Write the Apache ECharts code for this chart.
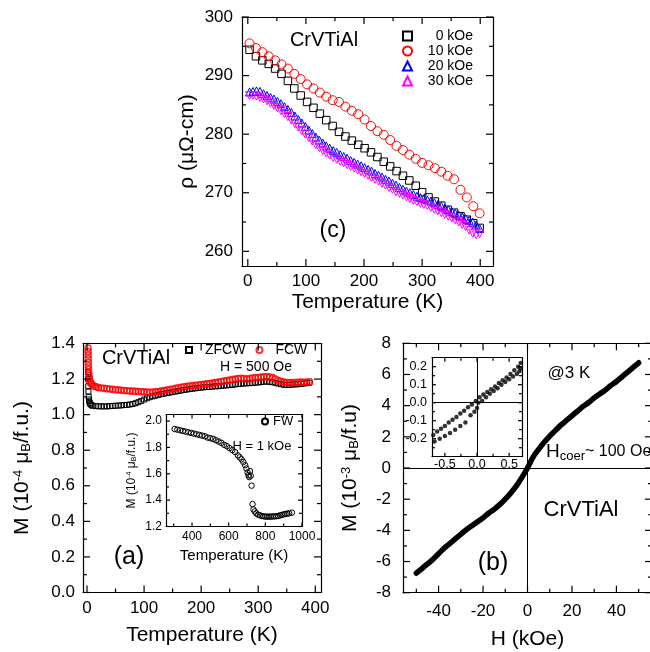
<!DOCTYPE html>
<html>
<head>
<meta charset="utf-8">
<script src="https://cdn.jsdelivr.net/npm/echarts@6/dist/echarts.min.js"></script>
<style>html,body{margin:0;padding:0;background:#fff}#chart{width:650px;height:652px}</style>
</head>
<body>
<div id="chart"></div>
<script>
// (c) resistivity vs temperature
const tempC = [3,14,25,36,47,58,69,80,91,102,113,124,135,146,157,168,179,190,201,212,223,234,245,256,267,278,289,300,311,322,333,344,355,366,377,388,399];
const rho0 = [294.4,293.3,292.6,292.0,291.2,290.3,289.1,287.8,286.6,285.5,284.5,283.5,282.4,281.4,280.4,279.6,278.9,278.2,277.6,276.9,276.1,275.3,274.5,273.7,272.9,272.1,271.2,270.1,269.2,268.5,267.8,267.1,266.6,266.0,265.4,264.8,264.0];
const rho10 = [295.5,294.7,294.0,293.3,292.6,291.9,291.2,290.3,289.4,288.5,287.8,287.1,286.4,285.8,285.5,284.7,284.0,283.4,282.5,281.4,280.5,279.9,279.0,278.0,277.3,276.5,275.8,275.1,274.7,274.2,273.6,272.9,272.3,270.5,269.2,267.7,266.5];
const tempTri = [3,9,15,21,27,33,39,45,51,57,63,69,75,81,87,93,99,105,111,117,123,129,135,141,147,153,159,165,171,177,183,189,195,201,207,213,219,225,231,237,243,249,255,261,267,273,279,285,291,297,303,309,315,321,327,333,339,345,351,357,363,369,375,381,387,393,399];
const rho20 = [287.2,287.3,287.4,287.3,286.9,286.6,286.3,286.0,285.6,285.2,284.7,284.2,283.7,283.1,282.5,281.9,281.3,280.7,280.1,279.5,279.0,278.5,278.0,277.6,277.2,276.9,276.5,276.2,275.9,275.5,275.2,274.9,274.6,274.3,274.0,273.7,273.3,273.0,272.7,272.3,272.0,271.6,271.3,270.9,270.6,270.3,270.0,269.7,269.4,269.2,269.0,268.8,268.6,268.3,268.0,267.7,267.4,267.1,266.8,266.5,266.2,265.9,265.6,265.3,265.0,264.5,263.9];
const rho30 = [286.6,286.6,286.5,286.3,286.0,285.7,285.3,284.9,284.5,284.0,283.5,283.0,282.4,281.8,281.2,280.6,280.0,279.4,278.8,278.2,277.7,277.2,276.8,276.4,276.0,275.7,275.4,275.1,274.8,274.5,274.2,273.9,273.6,273.3,273.0,272.6,272.3,272.0,271.6,271.3,270.9,270.6,270.2,269.9,269.6,269.3,269.0,268.7,268.5,268.2,268.0,267.8,267.5,267.2,266.9,266.6,266.3,266.0,265.7,265.4,265.0,264.6,264.2,263.6,263.1,262.8,263.0];

// (a) magnetization vs temperature, H = 500 Oe
const tempZfc = [1.8,2,2.2,2.5,3,3.5,4,5,6,8,10,15,20,25,30,35,40,45,50,55,60,65,70,75,80,85,90,95,100,105,110,115,120,125,130,135,140,145,150,155,160,165,170,175,180,185,190,195,200,205,210,215,220,225,230,235,240,245,250,255,260,265,270,275,280,285,290,295,300,305,310,315,320,325,330,335,340,345,350,355,360,365,370,375,380,385,390];
const momZfc = [1.24,1.2,1.16,1.13,1.1,1.085,1.075,1.065,1.058,1.053,1.05,1.048,1.047,1.046,1.047,1.046,1.048,1.049,1.05,1.051,1.052,1.054,1.055,1.057,1.06,1.064,1.07,1.077,1.085,1.092,1.098,1.103,1.107,1.111,1.115,1.118,1.121,1.124,1.127,1.13,1.133,1.136,1.139,1.141,1.144,1.146,1.148,1.15,1.152,1.154,1.155,1.156,1.158,1.159,1.16,1.162,1.163,1.165,1.166,1.168,1.17,1.172,1.173,1.175,1.176,1.177,1.178,1.18,1.181,1.183,1.185,1.186,1.184,1.182,1.179,1.175,1.171,1.168,1.167,1.168,1.169,1.17,1.171,1.173,1.175,1.177,1.18];
const tempFc = [1.8,1.9,2,2.1,2.2,2.4,2.6,3,3.5,4,5,6,8,10,13,16,20,25,30,35,40,45,50,55,60,65,70,75,80,85,90,95,100,105,110,115,120,125,130,135,140,145,150,155,160,165,170,175,180,185,190,195,200,205,210,215,220,225,230,235,240,245,250,255,260,265,270,275,280,285,290,295,300,305,310,315,320,325,330,335,340,345,350,355,360,365,370,375,380,385,390];
const momFc = [1.375,1.355,1.335,1.315,1.295,1.275,1.255,1.235,1.22,1.205,1.19,1.18,1.172,1.165,1.16,1.156,1.152,1.15,1.148,1.146,1.144,1.142,1.14,1.139,1.137,1.136,1.134,1.133,1.132,1.131,1.13,1.129,1.128,1.127,1.126,1.127,1.128,1.13,1.132,1.135,1.138,1.141,1.144,1.148,1.151,1.154,1.157,1.159,1.161,1.163,1.165,1.167,1.169,1.171,1.173,1.175,1.177,1.18,1.183,1.186,1.189,1.192,1.195,1.198,1.2,1.203,1.205,1.203,1.2,1.203,1.206,1.208,1.209,1.211,1.213,1.214,1.212,1.208,1.2,1.192,1.187,1.183,1.181,1.18,1.18,1.181,1.182,1.183,1.182,1.183,1.185];

// (a) inset, H = 1 kOe
const tempFw = [305,320,335,350,365,380,395,410,425,440,455,470,485,500,515,530,545,560,575,590,605,620,635,650,660,670,680,690,697,703,708,712,716,720,725,730,735,742,750,760,770,780,790,800,810,820,830,840,850,860,870,880,890,900,910,920,930,945];
const momFw = [1.94,1.935,1.93,1.925,1.92,1.915,1.91,1.905,1.9,1.895,1.89,1.885,1.875,1.87,1.865,1.855,1.845,1.835,1.82,1.81,1.795,1.78,1.765,1.74,1.725,1.71,1.69,1.665,1.64,1.61,1.59,1.575,1.62,1.585,1.51,1.37,1.33,1.315,1.3,1.29,1.285,1.28,1.278,1.275,1.275,1.275,1.275,1.276,1.277,1.278,1.28,1.284,1.288,1.292,1.295,1.298,1.3,1.305];

// (b) M-H at 3 K
const fieldMH = [-50,-47.5,-45,-42.5,-40,-37.5,-35,-32.5,-30,-27.5,-25,-22.5,-20,-17.5,-15,-12.5,-10,-7.5,-5,-2.5,0,2.5,5,7.5,10,12.5,15,17.5,20,22.5,25,27.5,30,32.5,35,37.5,40,42.5,45,47.5,50];
const momMH = [-6.75,-6.45,-6.15,-5.85,-5.5,-5.15,-4.85,-4.55,-4.25,-3.95,-3.7,-3.45,-3.2,-2.9,-2.65,-2.35,-2.0,-1.6,-1.15,-0.6,0,0.7,1.2,1.65,2.05,2.4,2.75,3.05,3.35,3.65,3.95,4.2,4.5,4.75,5.0,5.3,5.55,5.85,6.15,6.45,6.75];
// (b) inset, low-field loop
const fieldUp = [-0.68,-0.62,-0.56,-0.5,-0.44,-0.38,-0.32,-0.26,-0.2,-0.14,-0.08,-0.02,0.04,0.1,0.16,0.22,0.28,0.34,0.4,0.46,0.52,0.58,0.64,0.68];
const momUp = [-0.18,-0.16,-0.145,-0.13,-0.11,-0.095,-0.08,-0.06,-0.045,-0.025,-0.01,0.01,0.03,0.045,0.06,0.075,0.09,0.11,0.125,0.14,0.16,0.18,0.2,0.22];
const fieldDn = [-0.66,-0.58,-0.5,-0.42,-0.34,-0.26,-0.18,-0.1,-0.04,0.0,0.02,0.08,0.14,0.2,0.26,0.32,0.38,0.44,0.5,0.56,0.62,0.66,0.68];
const momDn = [-0.215,-0.2,-0.185,-0.168,-0.15,-0.13,-0.11,-0.07,-0.05,-0.03,0.0,0.01,0.03,0.05,0.065,0.08,0.1,0.115,0.13,0.145,0.16,0.175,0.19];

const FONT = '"Liberation Sans", Arial, sans-serif';
const zip = (xs, ys) => xs.map((x, i) => [x, ys[i]]);

const grids = [
  { left: 242, top: 17, width: 251, height: 249 },   // (c)
  { left: 83, top: 343.5, width: 238, height: 249 },  // (a)
  { left: 166, top: 414.5, width: 136, height: 112 }, // (a) inset
  { left: 403, top: 343.3, width: 249, height: 249.4 }, // (b)
  { left: 432, top: 357.7, width: 90, height: 99 }    // (b) inset
].map(g => Object.assign({ show: false, containLabel: false, outerBoundsMode: 'none' }, g));

const xAxes = [], yAxes = [];

// one side of a framed box, labels only on bottom / left
function axis(g, pos, s, withLabel) {
  const a = {
    type: 'value', gridIndex: g, position: pos, min: s.min, max: s.max,
    axisLine: { show: true, onZero: false, lineStyle: { color: '#000', width: 1.2 } },
    axisTick: { show: false },
    axisLabel: { show: withLabel, customValues: s.major, margin: s.margin, color: '#000',
      fontSize: s.fs, fontFamily: FONT, formatter: s.fmt },
    splitLine: { show: false }
  };
  if (withLabel && s.name) {
    a.name = s.name;
    a.nameLocation = 'middle';
    a.nameGap = s.nameGap;
    a.nameTextStyle = Object.assign({ color: '#000', fontFamily: FONT, fontSize: s.nameFs }, s.nameStyle || {});
  }
  return a;
}

// inward ticks on all four sides, placed through the axes' own scales
function tickSeries(ax, xs, ys) {
  const line = (x1, y1, x2, y2) => ({ type: 'line', shape: { x1, y1, x2, y2 }, style: { stroke: '#000', lineWidth: 1.2 } });
  const mk = (s, horiz) => ({
    type: 'custom', xAxisIndex: ax.xi, yAxisIndex: ax.yi, silent: true, clip: false, z: 10,
    data: s.major.map(v => [v, s.majLen]).concat(s.minor.map(v => [v, s.minLen])),
    renderItem: (params, api) => {
      const v = api.value(0), len = api.value(1);
      if (horiz) {
        const lo = api.coord([v, ys.min]), hi = api.coord([v, ys.max]);
        return { type: 'group', children: [line(lo[0], lo[1], lo[0], lo[1] - len), line(hi[0], hi[1], hi[0], hi[1] + len)] };
      }
      const l = api.coord([xs.min, v]), r = api.coord([xs.max, v]);
      return { type: 'group', children: [line(l[0], l[1], l[0] + len, l[1]), line(r[0], r[1], r[0] - len, r[1])] };
    }
  });
  return [mk(xs, true), mk(ys, false)];
}

const tickLayers = [];
function box(g, xs, ys) {
  const ax = { xi: xAxes.length, yi: yAxes.length };
  xAxes.push(axis(g, 'bottom', xs, true), axis(g, 'top', xs, false));
  yAxes.push(axis(g, 'left', ys, true), axis(g, 'right', ys, false));
  tickLayers.push(...tickSeries(ax, xs, ys));
  return ax;
}

const int = v => String(Math.round(v));
const one = v => v.toFixed(1);
const supRich = fs => ({
  n: { fontSize: fs, fontFamily: FONT, color: '#000' },
  sup: { fontSize: Math.round(fs * 0.62), fontFamily: FONT, color: '#000', verticalAlign: 'top', lineHeight: fs },
  sub: { fontSize: Math.round(fs * 0.62), fontFamily: FONT, color: '#000', verticalAlign: 'bottom', lineHeight: fs }
});

const axC = box(0,
  { min: -10, max: 422, major: [0, 100, 200, 300, 400], minor: [50, 150, 250, 350], majLen: 7, minLen: 4,
    margin: 7, fs: 17, fmt: int, name: 'Temperature (K)', nameGap: 26, nameFs: 21 },
  { min: 257.5, max: 300, major: [260, 270, 280, 290, 300], minor: [265, 275, 285, 295], majLen: 7, minLen: 4,
    margin: 9, fs: 17, fmt: int, name: 'ρ (μΩ-cm)', nameGap: 44, nameFs: 21 });

const axA = box(1,
  { min: -7, max: 410, major: [0, 100, 200, 300, 400], minor: [50, 150, 250, 350], majLen: 7, minLen: 4,
    margin: 7, fs: 17, fmt: int, name: 'Temperature (K)', nameGap: 32, nameFs: 21 },
  { min: 0, max: 1.4, major: [0, 0.2, 0.4, 0.6, 0.8, 1.0, 1.2, 1.4], minor: [0.1, 0.3, 0.5, 0.7, 0.9, 1.1, 1.3], majLen: 7, minLen: 4,
    margin: 8, fs: 17, fmt: one, name: '{n|M (10}{sup|-4}{n| μ}{sub|B}{n|/f.u.)}', nameGap: 50, nameFs: 21,
    nameStyle: { rich: supRich(21) } });

const axAi = box(2,
  { min: 258, max: 1000, major: [400, 600, 800, 1000], minor: [300, 500, 700, 900], majLen: 4, minLen: 3,
    margin: 4, fs: 12, fmt: int, name: 'Temperature (K)', nameGap: 22, nameFs: 15 },
  { min: 1.2, max: 2.05, major: [1.2, 1.4, 1.6, 1.8, 2.0], minor: [1.3, 1.5, 1.7, 1.9], majLen: 4, minLen: 3,
    margin: 4, fs: 12, fmt: one, name: '{n|M (10}{sup|-4}{n| μ}{sub|B}{n|/f.u.)}', nameGap: 28, nameFs: 12,
    nameStyle: { rich: supRich(12) } });

const axB = box(3,
  { min: -56, max: 56, major: [-40, -20, 0, 20, 40], minor: [-50, -30, -10, 10, 30, 50], majLen: 7, minLen: 4,
    margin: 10, fs: 17, fmt: int, name: 'H (kOe)', nameGap: 36, nameFs: 21 },
  { min: -8, max: 8, major: [-8, -6, -4, -2, 0, 2, 4, 6, 8], minor: [-7, -5, -3, -1, 1, 3, 5, 7], majLen: 7, minLen: 4,
    margin: 12, fs: 17, fmt: int, name: '{n|M (10}{sup|-3}{n| μ}{sub|B}{n|/f.u)}', nameGap: 42, nameFs: 21,
    nameStyle: { rich: supRich(21) } });

const axBi = box(4,
  { min: -0.7, max: 0.7, major: [-0.5, 0, 0.5], minor: [-0.25, 0.25], majLen: 4, minLen: 3,
    margin: 1, fs: 12.5, fmt: one },
  { min: -0.3, max: 0.25, major: [-0.2, -0.1, 0, 0.1, 0.2], minor: [-0.25, -0.15, -0.05, 0.05, 0.15], majLen: 4, minLen: 3,
    margin: 5, fs: 12.5, fmt: one });

function scatter(name, ax, data, symbol, size, color, opts) {
  return Object.assign({
    type: 'scatter', name, xAxisIndex: ax.xi, yAxisIndex: ax.yi, data,
    symbol, symbolSize: size,
    itemStyle: { color: 'rgba(0,0,0,0)', borderColor: color, borderWidth: 1, opacity: 1 }
  }, opts || {});
}

const zeroLines = () => ({
  silent: true, symbol: ['none', 'none'], label: { show: false },
  lineStyle: { type: 'solid', color: '#000', width: 1 },
  data: [{ xAxis: 0 }, { yAxis: 0 }]
});

const series = [
  scatter('0 kOe', axC, zip(tempC, rho0), 'rect', 7.5, '#000'),
  scatter('10 kOe', axC, zip(tempC, rho10), 'circle', 9, '#ff0000'),
  scatter('20 kOe', axC, zip(tempTri, rho20), 'triangle', 8, '#0000ff'),
  scatter('30 kOe', axC, zip(tempTri, rho30), 'triangle', 8, '#ff00ff', { symbolRotate: 180 }),
  scatter('ZFCW', axA, zip(tempZfc, momZfc), 'rect', 5, '#000'),
  scatter('FCW', axA, zip(tempFc, momFc), 'circle', 6, '#ff0000',
    { itemStyle: { color: 'rgba(0,0,0,0)', borderColor: '#ff0000', borderWidth: 1.6 } }),
  scatter('FW', axAi, zip(tempFw, momFw), 'circle', 5.5, '#000'),
  {
    type: 'line', name: 'MH', xAxisIndex: axB.xi, yAxisIndex: axB.yi, data: zip(fieldMH, momMH),
    showSymbol: false, smooth: 0.35,
    lineStyle: { color: '#000', width: 5.5, cap: 'round', join: 'round' },
    markLine: zeroLines()
  },
  scatter('up', axBi, zip(fieldUp, momUp), 'circle', 4.5, '#000',
    { itemStyle: { color: '#000' }, markLine: zeroLines() }),
  scatter('down', axBi, zip(fieldDn, momDn), 'circle', 4.5, '#000', { itemStyle: { color: '#000' } })
].concat(tickLayers);

const legendBase = { selectedMode: false, padding: 0, inactiveColor: '#000', symbolKeepAspect: true };

const legends = [
  Object.assign({}, legendBase, {
    data: ['0 kOe', '10 kOe', '20 kOe', '30 kOe'], orient: 'vertical', left: 402, top: 29,
    itemWidth: 9, itemHeight: 9, itemGap: 1,
    formatter: n => '{r|' + n + '}',
    textStyle: { rich: { r: { width: 56, align: 'right', fontSize: 14, lineHeight: 17.5, fontFamily: FONT, color: '#000' } } }
  }),
  Object.assign({}, legendBase, {
    data: ['ZFCW', 'FCW'], orient: 'horizontal', left: 185, top: 343,
    itemWidth: 6, itemHeight: 6, itemGap: 10,
    formatter: n => '{t|' + n + '}',
    textStyle: { rich: { t: { padding: [0, 0, 0, 8], fontSize: 14, lineHeight: 16, fontFamily: FONT, color: '#000' } } }
  }),
  Object.assign({}, legendBase, {
    data: ['FW'], orient: 'horizontal', left: 261, top: 414,
    itemWidth: 6, itemHeight: 6, itemGap: 5,
    textStyle: { color: '#000', fontFamily: FONT, fontSize: 13, lineHeight: 15 }
  })
];

function label(text, x, y, fs) {
  return {
    type: 'text', x, y, silent: true,
    style: { text, fontSize: fs, fontFamily: FONT, fill: '#000', align: 'center', verticalAlign: 'middle' }
  };
}

const graphics = [
  label('CrVTiAl', 324, 40, 20),
  label('(c)', 333, 231, 23),
  label('CrVTiAl', 136, 358, 20),
  label('H = 500 Oe', 256, 367, 14),
  label('(a)', 129, 557, 25),
  label('H = 1 kOe', 262, 446, 13),
  label('@3 K', 569, 373, 17),
  label('CrVTiAl', 581, 510, 22),
  label('(b)', 493, 563, 25),
  {
    type: 'text', x: 546, y: 452, silent: true,
    style: {
      text: '{h|H}{s|coer}{t|~ 100 Oe}', align: 'left', verticalAlign: 'middle',
      rich: {
        h: { fontSize: 19, fontFamily: FONT, fill: '#000', lineHeight: 22 },
        s: { fontSize: 13, fontFamily: FONT, fill: '#000', verticalAlign: 'bottom', lineHeight: 22, padding: [10, 0, 0, 0] },
        t: { fontSize: 16, fontFamily: FONT, fill: '#000', lineHeight: 22 }
      }
    }
  }
];

const chart = echarts.init(document.getElementById('chart'));
chart.setOption({
  animation: false,
  grid: grids,
  xAxis: xAxes,
  yAxis: yAxes,
  legend: legends,
  series,
  graphic: graphics
});
</script>
</body>
</html>
